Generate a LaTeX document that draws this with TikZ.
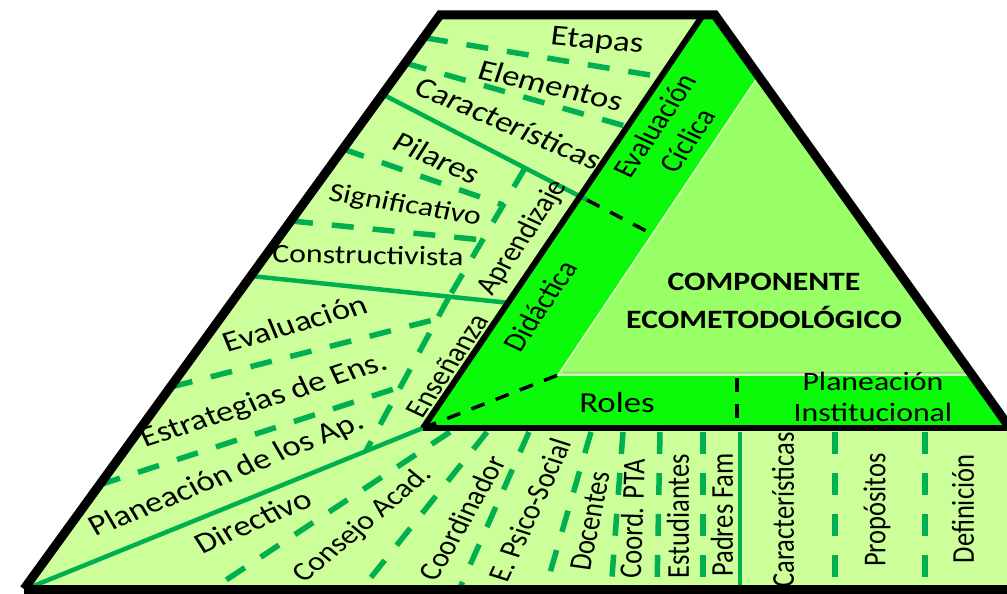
\documentclass[tikz,border=0pt]{standalone}
\usepackage{fontspec}
\setmainfont{Carlito}
\usepackage{tikz}

\definecolor{paleGreen}{RGB}{204,255,153}
\definecolor{limeGreen}{RGB}{10,250,10}
\definecolor{midGreen}{RGB}{153,255,102}
\definecolor{edgeGreen}{RGB}{0,176,80}

\begin{document}
\begin{tikzpicture}[
      x=1pt, y=-1pt,
      lb/.style={font=\fontsize{26.5}{31}\selectfont, inner sep=0pt},
      lbb/.style={font=\fontsize{29}{31}\selectfont, inner sep=0pt},
      sep/.style={draw=edgeGreen, line width=4.5pt},
      dsep/.style={draw=edgeGreen, line width=5.5pt, dash pattern=on 22pt off 19pt},
      dbk/.style={draw=black, line width=3.5pt, dash pattern=on 14pt off 12pt},
      bk/.style={draw=black, line width=6pt},
      rim/.style={draw=black, line width=9pt, line join=miter}
    ]
    \useasboundingbox (0,0) rectangle (1007,594);
    \coordinate (tl) at (440,15);
    \coordinate (tr) at (715,15);
    \coordinate (br) at (1010,428);
    \coordinate (bl) at (24,589);
    \coordinate (bb) at (1012,589);
    \coordinate (apex) at (703,15);
    \coordinate (cn) at (423,428);
    \coordinate (ta) at (757,78);
    \coordinate (tb) at (558,375);
    \coordinate (tc) at (975,375);
    \fill[paleGreen] (bl) -- (tl) -- (tr) -- (br) -- (1012,428) -- (bb) -- cycle;
    \fill[limeGreen] (apex) -- (tr) -- (br) -- (cn) -- cycle;
    \filldraw[fill=midGreen, draw=white!55!midGreen, line width=1.5pt] (ta) -- (tc) -- (tb) -- cycle;
    \draw[gray!60, line width=1pt] (563,372) -- (972,372);
    \coordinate (e1a) at (426,38);
    \coordinate (e1b) at (668,78);
    \coordinate (e2a) at (405,63);
    \coordinate (e2b) at (632,128);
    \coordinate (s1a) at (382,94);
    \coordinate (s1b) at (587,200);
    \coordinate (s1c) at (652,234);
    \coordinate (apa) at (525,168);
    \coordinate (apb) at (449,297);
    \coordinate (p1a) at (343,149);
    \coordinate (p1b) at (503,205);
    \coordinate (p2a) at (291,221);
    \coordinate (p2b) at (483,240);
    \coordinate (s2a) at (251,276);
    \coordinate (s2b) at (510,303);
    \coordinate (ena) at (449,297);
    \coordinate (enb) at (366,451);
    \coordinate (q1a) at (171,387);
    \coordinate (q1b) at (437,319);
    \coordinate (q2a) at (99,485);
    \coordinate (q2b) at (400,387);
    \coordinate (s3a) at (26,589);
    \coordinate (r1a) at (450,432);
    \coordinate (r1b) at (211,590);
    \coordinate (r2a) at (487,432);
    \coordinate (r2b) at (361,590);
    \coordinate (r3a) at (529,432);
    \coordinate (r3b) at (459,590);
    \coordinate (r4a) at (591,432);
    \coordinate (r4b) at (545,590);
    \coordinate (r5a) at (623,432);
    \coordinate (r5b) at (611,590);
    \coordinate (r6a) at (660,432);
    \coordinate (r6b) at (657,590);
    \coordinate (r7a) at (703,432);
    \coordinate (r7b) at (703,590);
    \coordinate (s4a) at (740,432);
    \coordinate (s4b) at (740,590);
    \coordinate (r8a) at (835,432);
    \coordinate (r8b) at (835,590);
    \coordinate (r9a) at (925,432);
    \coordinate (r9b) at (925,590);
    \coordinate (rla) at (737,378);
    \coordinate (rlb) at (737,426);
    \draw (e1a) edge[dsep] (e1b);
    \draw (e2a) edge[dsep] (e2b);
    \draw (s1a) edge[sep] (s1b);
    \draw (apa) edge[dsep] (apb);
    \draw (p1a) edge[dsep] (p1b);
    \draw (p2a) edge[dsep] (p2b);
    \draw (s2a) edge[sep] (s2b);
    \draw (ena) edge[dsep] (enb);
    \draw (q1a) edge[dsep] (q1b);
    \draw (q2a) edge[dsep] (q2b);
    \draw (s3a) edge[sep] (cn);
    \draw (r1a) edge[dsep] (r1b);
    \draw (r2a) edge[dsep] (r2b);
    \draw (r3a) edge[dsep] (r3b);
    \draw (r4a) edge[dsep] (r4b);
    \draw (r5a) edge[dsep] (r5b);
    \draw (r6a) edge[dsep] (r6b);
    \draw (r7a) edge[dsep] (r7b);
    \draw (s4a) edge[sep] (s4b);
    \draw (r8a) edge[dsep] (r8b);
    \draw (r9a) edge[dsep] (r9b);
    \draw (s1b) edge[dbk] (s1c);
    \draw (cn) edge[dbk] (tb);
    \draw (rla) edge[dbk] (rlb);
    \begin{scope}[x=0.83333pt, xscale=1.2, transform shape]
    \node[lbb, rotate=-6] (etapas) at (597,42) {Etapas};
    \node[lbb, rotate=-15.5] (elem) at (551,85) {Elementos};
    \node[lbb, rotate=-27] (caract) at (509,123) {Características};
    \node[lb, rotate=60.7, align=center] (evcic) at (671,133) {Evaluación\\Cíclica};
    \node[lbb, rotate=-28] (pilares) at (437,158) {Pilares};
    \node[lb, rotate=-11] (signif) at (405,206) {Significativo};
    \node[lb, rotate=-1.2] (constr) at (368,255) {Constructivista};
    \node[lb, rotate=60.7] (aprend) at (523,238) {Aprendizaje};
    \node[lb, rotate=60.7] (didac) at (540,306) {Didáctica};
    \node[lbb, rotate=19] (evalu) at (295,323) {Evaluación};
    \node[lbb, rotate=21.3] (estrat) at (264,401) {Estrategias de Ens.};
    \node[lbb, rotate=25.9] (planap) at (227,475) {Planeación de los Ap.};
    \node[lb, rotate=60.7] (ensen) at (447,366) {Enseñanza};
    \node[lbb, rotate=28] (direct) at (253,521) {Directivo};
    \node[lb, rotate=45.2] (consejo) at (363,525) {Consejo Acad.};
    \node[lb, rotate=64.3] (coord) at (462,518) {Coordinador};
    \node[lb, rotate=69.1] (psico) at (530,510) {E. Psico-Social};
    \node[lb, rotate=80.4] (docen) at (590,521) {Docentes};
    \node[lb, rotate=88.3] (pta) at (632,519) {Coord. PTA};
    \node[lb, rotate=90] (estud) at (678,516) {Estudiantes};
    \node[lb, rotate=90] (padres) at (722,515) {Padres Fam};
    \node[lb, rotate=90] (caract2) at (783,510) {Características};
    \node[lb, rotate=90] (propos) at (877,510) {Propósitos};
    \node[lb, rotate=90] (defin) at (963,509) {Definición};
    \node[lbb] (roles) at (617,403) {Roles};
    \node[lb, align=center] (planinst) at (873,397) {Planeación\\Institucional};
    \node[lb, font=\fontsize{26.5}{31}\selectfont\bfseries, align=center] (comp) at (764,301) {COMPONENTE\\[7pt]ECOMETODOLÓGICO};
    \end{scope}
    \draw (apex) edge[bk] (cn);
    \draw (cn) edge[bk] (br);
    \draw[rim] (bl) -- (tl) -- (tr) -- (br);
    \draw[rim] (bl) -- (bb);
\end{tikzpicture}
\end{document}
